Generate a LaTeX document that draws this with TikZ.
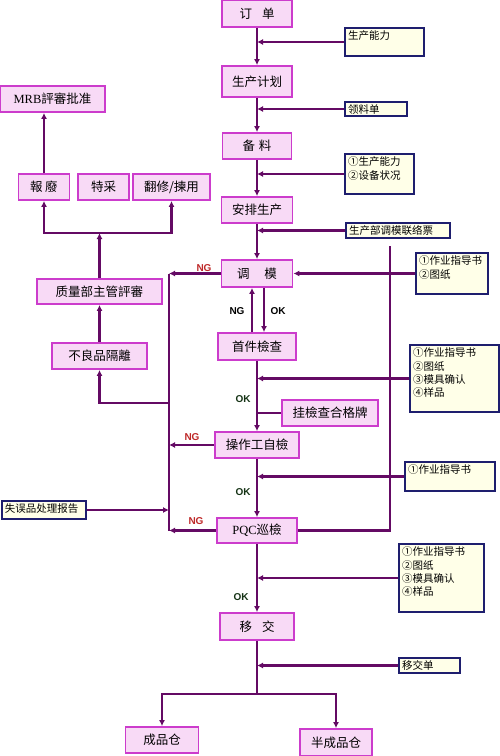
\documentclass[tikz,border=0pt]{standalone}
\usepackage{fontspec}
\setmainfont{Liberation Serif}
\newfontfamily\cjk{Noto Sans CJK SC}
\newfontfamily\lbl{Liberation Sans}
\usepackage{tikz}
\usetikzlibrary{arrows.meta,positioning}
\definecolor{boxpink}{RGB}{248,218,246}
\definecolor{boxedge}{RGB}{204,60,204}
\definecolor{notefill}{RGB}{255,255,232}
\definecolor{noteedge}{RGB}{30,30,110}
\definecolor{flowline}{RGB}{100,10,100}
\definecolor{ngred}{RGB}{190,40,40}
\definecolor{okgreen}{RGB}{20,50,20}
\newcommand{\notetxt}[3]{\parbox[c][#2pt][t]{#1pt}{#3}}

\begin{document}
\begin{tikzpicture}[x=1pt,y=-1pt,
   box/.style={draw=boxedge,fill=boxpink,line width=1.8pt,inner sep=0pt,
               font=\cjk\fontsize{12.5}{15}\selectfont},
   note/.style={draw=noteedge,fill=notefill,line width=1.6pt,inner sep=3pt,
               font=\cjk\fontsize{10.5}{13.3}\selectfont},
   flow/.style={draw=flowline,line width=2.2pt},
   flowarr/.style={flow,-{Latex[length=6pt,width=6pt]}},
   tag/.style={font=\lbl\bfseries\fontsize{10}{12}\selectfont}]
  \useasboundingbox (0,0) rectangle (500,756);
  % main column
  \node[box,minimum width=70pt,minimum height=27pt] (dd)  at (257,13.5) {订\hspace{0.8em}单};
  \node[box,minimum width=70pt,minimum height=31pt] (jh)  at (257,81.5) {生产计划};
  \node[box,minimum width=69pt,minimum height=26pt] (bl)  at (257,146)  {备\hspace{0.3em}料};
  \node[box,minimum width=71pt,minimum height=26pt] (ap)  at (257,210)  {安排生产};
  \node[box,minimum width=71pt,minimum height=27pt] (tm)  at (257,273.5) {调\hspace{1.2em}模};
  \node[box,minimum width=78pt,minimum height=27pt] (sj)  at (257,346.5) {首件檢查};
  \node[box,minimum width=96pt,minimum height=26pt] (gp)  at (330,413)  {挂檢查合格牌};
  \node[box,minimum width=84pt,minimum height=26pt] (cz)  at (257,445)  {操作工自檢};
  \node[box,minimum width=80pt,minimum height=25pt] (pqc) at (257,530.5) {\rmfamily PQC\cjk 巡檢};
  \node[box,minimum width=74pt,minimum height=27pt] (yj)  at (257,626.5) {移\hspace{0.8em}交};
  \node[box,minimum width=73pt,minimum height=26pt] (cp)  at (162,740)  {成品仓};
  \node[box,minimum width=72pt,minimum height=27pt] (bcp) at (336,742.5) {半成品仓};
  % left column
  \node[box,minimum width=105pt,minimum height=26pt] (mrb) at (52.5,99) {\rmfamily MRB\cjk 評審批准};
  \node[box,minimum width=51pt,minimum height=26pt]  (bf)  at (44,187)  {報\hspace{0.2em}廢};
  \node[box,minimum width=51pt,minimum height=26pt]  (tc)  at (103.5,187) {特采};
  \node[box,minimum width=77pt,minimum height=26pt]  (fx)  at (171.5,187) {翻修/揀用};
  \node[box,minimum width=125pt,minimum height=25pt] (zl)  at (99.5,291.5) {质量部主管評審};
  \node[box,minimum width=95pt,minimum height=26pt]  (blp) at (99.5,356) {不良品隔離};
  % notes
  \node[note] (n1)  at (384.5,42)  {\notetxt{73}{22}{生产能力}};
  \node[note] (n2)  at (376,109)   {\notetxt{56}{8}{领料单}};
  \node[note] (n3)  at (379.5,174) {\notetxt{63}{34}{①生产能力\\②设备状况}};
  \node[note] (n4)  at (398,230.5) {\notetxt{98}{9}{生产部调模联络票}};
  \node[note] (n5)  at (452,273.5) {\notetxt{66}{35}{①作业指导书\\②图纸}};
  \node[note] (n6)  at (454.5,378.5) {\notetxt{83}{61}{①作业指导书\\②图纸\\③模具确认\\④样品}};
  \node[note] (n7)  at (450,476.5) {\notetxt{84}{23}{①作业指导书}};
  \node[note] (n8)  at (44,510)    {\notetxt{78}{12}{失误品处理报告}};
  \node[note] (n9)  at (441.5,578) {\notetxt{79}{62}{①作业指导书\\②图纸\\③模具确认\\④样品}};
  \node[note] (n10) at (429.5,665.5) {\notetxt{55}{9}{移交单}};
  % helper points
  \coordinate (ngx) at (169,0);
  \coordinate (qa) at (169,403);
  \coordinate (rt) at (390,246);
  \coordinate (jc) at (99.5,233);
  \coordinate (bj) at (257,694);
  % main flow
  \draw[flowarr] (dd) -- (jh);
  \draw[flowarr] (jh) -- (bl);
  \draw[flowarr] (bl) -- (ap);
  \draw[flowarr] (ap) -- (tm);
  \draw[flowarr] ([xshift=-5pt]sj.north) -- ([xshift=-5pt]tm.south);
  \draw[flowarr] ([xshift=7pt]tm.south) -- ([xshift=7pt]sj.north);
  \draw[flowarr] (sj) -- (cz);
  \draw[flow] (gp.west) -- (gp.west -| sj.south);
  \draw[flowarr] (cz) -- (pqc);
  \draw[flowarr] (pqc) -- (yj);
  \draw[flow] (yj.south) -- (bj);
  \draw[flowarr] (bj) -| (cp.north);
  \draw[flowarr] (bj) -| (bcp.north);
  % inputs from the right
  \draw[flowarr] (n1.west) -- (n1.west -| dd.south);
  \draw[flowarr] (n2.west) -- (n2.west -| dd.south);
  \draw[flowarr] (n3.west) -- (n3.west -| dd.south);
  \draw[flowarr] (n4.west) -- (n4.west -| dd.south);
  \draw[flow] (rt) |- (pqc.east);
  \draw[flowarr] (n5.west) -- (tm.east);
  \draw[flowarr] (n6.west) -- (n6.west -| dd.south);
  \draw[flowarr] (n7.west) -- (n7.west -| dd.south);
  \draw[flowarr] (n9.west) -- (n9.west -| dd.south);
  \draw[flowarr] (n10.west) -- (n10.west -| dd.south);
  % NG side
  \draw[flow] (tm.west -| ngx) -- (pqc.west -| ngx);
  \draw[flowarr] (tm.west) -- (tm.west -| ngx);
  \draw[flowarr] (cz.west) -- (cz.west -| ngx);
  \draw[flowarr] (pqc.west) -- (pqc.west -| ngx);
  \draw[flowarr] (n8.east) -- (n8.east -| ngx);
  \draw[flowarr] (qa) -| (blp.south);
  \draw[flowarr] (blp) -- (zl);
  \draw[flowarr] (zl.north) -- (jc);
  \draw[flowarr] (jc) -| (bf.south);
  \draw[flowarr] (jc) -| (fx.south);
  \draw[flowarr] (bf.north) -- (bf.north |- mrb.south);
  % labels
  \node[tag,text=ngred]   (ng1) at (204,268) {NG};
  \node[tag]              (ng2) at (237,311) {NG};
  \node[tag]              (ok1) at (278,311) {OK};
  \node[tag,text=okgreen] (ok2) at (243,399) {OK};
  \node[tag,text=ngred]   (ng3) at (192,437) {NG};
  \node[tag,text=okgreen] (ok3) at (243,492) {OK};
  \node[tag,text=ngred]   (ng4) at (196,521) {NG};
  \node[tag,text=okgreen] (ok4) at (241,597) {OK};
\end{tikzpicture}
\end{document}
